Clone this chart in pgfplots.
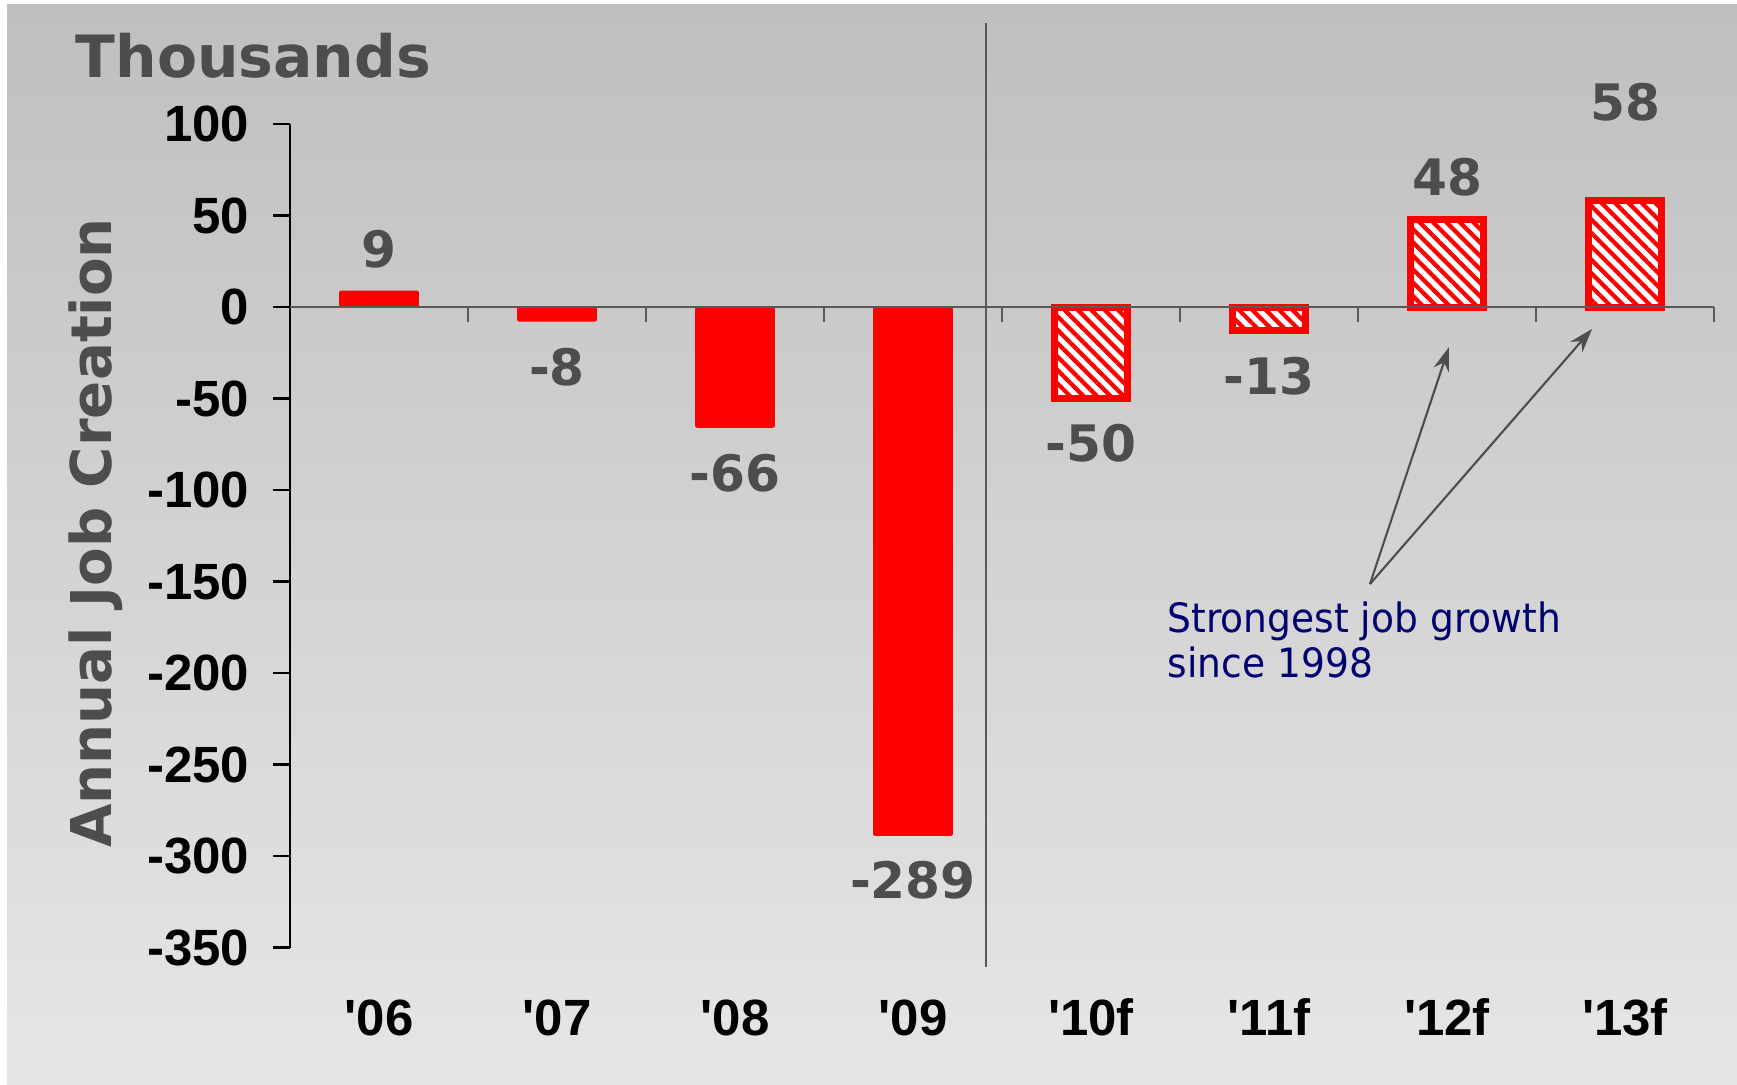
\documentclass[border=0pt]{standalone}
\usepackage{pgfplots}
\pgfplotsset{compat=1.18}
\usetikzlibrary{patterns.meta,arrows.meta}
\usepackage{fontspec}
\setmainfont{Liberation Sans}
\newfontfamily\dejavu{DejaVu Sans}
\newfontfamily\anno[FakeStretch=0.93]{DejaVu Sans}
\definecolor{bgtop}{HTML}{BFBFBF}
\definecolor{bgbot}{HTML}{E6E6E6}
\definecolor{lblgray}{HTML}{4D4D4D}
\definecolor{axgray}{HTML}{595959}
\definecolor{navy}{RGB}{0,0,110}
\definecolor{barred}{HTML}{FF0000}
\begin{document}
\begin{tikzpicture}
\useasboundingbox (0,0) rectangle (173.7mm,108.4mm);
\fill[white] (0,0) rectangle (173.7mm,108.4mm);
\shade[top color=bgtop, bottom color=bgbot] (0.7mm,0) rectangle (173.7mm,108.0mm);
\node[anchor=base west, inner sep=0pt, text=lblgray, font=\dejavu\bfseries\fontsize{16.6}{16.6}\selectfont] at (7.5mm,100.65mm) {Thousands};
\node[anchor=base, rotate=90, inner sep=0pt, text=lblgray, font=\dejavu\bfseries\fontsize{16}{16}\selectfont] at (11.1mm,55.1mm) {Annual Job Creation};
\node[anchor=base west, inner sep=0pt, text=navy, font=\anno\fontsize{11.5}{12.6}\selectfont] at (116.7mm,45.14mm) {Strongest job growth};
\node[anchor=base west, inner sep=0pt, text=navy, font=\anno\fontsize{11.5}{12.6}\selectfont] at (116.7mm,40.7mm) {since 1998};
\begin{axis}[
  at={(29mm,13.65mm)}, anchor=south west,
  scale only axis, width=142.4mm, height=82.35mm,
  xmin=0.5, xmax=8.5, ymin=-350, ymax=100,
  axis lines*=left,
  x axis line style={draw=none},
  y axis line style={black, line width=0.7pt},
  xtick={1,2,3,4,5,6,7,8},
  xticklabels={\textquotesingle 06,\textquotesingle 07,\textquotesingle 08,\textquotesingle 09,\textquotesingle 10f,\textquotesingle 11f,\textquotesingle 12f,\textquotesingle 13f},
  ytick={-350,-300,-250,-200,-150,-100,-50,0,50,100},
  yticklabels={-350,-300,-250,-200,-150,-100,-50,0,50,100},
  tick align=outside,
  major tick length=1.7mm,
  xtick style={draw=none},
  ytick style={black, line width=0.7pt},
  ticklabel style={font=\bfseries\fontsize{14.5}{14.5}\selectfont, text=black},
  yticklabel style={anchor=east, inner sep=0pt, xshift=-2.3mm},
  xticklabel style={anchor=base, inner sep=0pt, yshift=-7.05mm},
  clip=false,
]
\addplot[ybar, bar shift=0pt, bar width=0.449, fill=barred, draw=none, rounded corners=0.6pt]
  coordinates {(1,9) (2,-8) (3,-66) (4,-289)};
\addplot[ybar, bar shift=0pt, bar width=0.41, draw=barred, line width=2pt, fill=white,
  postaction={pattern={Lines[angle=-45,distance=2.7pt,line width=1.2pt]}, pattern color=barred}]
  coordinates {(5,-50) (6,-13) (7,48) (8,58)};
% zero line and category ticks
\draw[axgray, line width=0.6pt] (axis cs:0.5,0) -- (axis cs:8.5,0);
\draw[axgray, line width=0.6pt] (axis cs:1.5,0) -- ++(0pt,-1.5mm);
\draw[axgray, line width=0.6pt] (axis cs:2.5,0) -- ++(0pt,-1.5mm);
\draw[axgray, line width=0.6pt] (axis cs:3.5,0) -- ++(0pt,-1.5mm);
\draw[axgray, line width=0.6pt] (axis cs:4.5,0) -- ++(0pt,-1.5mm);
\draw[axgray, line width=0.6pt] (axis cs:5.5,0) -- ++(0pt,-1.5mm);
\draw[axgray, line width=0.6pt] (axis cs:6.5,0) -- ++(0pt,-1.5mm);
\draw[axgray, line width=0.6pt] (axis cs:7.5,0) -- ++(0pt,-1.5mm);
\draw[axgray, line width=0.6pt] (axis cs:8.5,0) -- ++(0pt,-1.5mm);
% separator
\draw[axgray, line width=0.75pt] (axis cs:4.41,155.2) -- (axis cs:4.41,-360.6);
% value labels
\begin{scope}[every node/.style={text=lblgray, font=\dejavu\bfseries\fontsize{14.3}{14.3}\selectfont, inner sep=0pt, anchor=center}]
\node at (axis cs:1,31.5) {9};
\node at (axis cs:2,-32.7) {-8};
\node at (axis cs:3,-90.8) {-66};
\node at (axis cs:4,-313) {-289};
\node at (axis cs:5,-74.5) {-50};
\node at (axis cs:6,-38) {-13};
\node at (axis cs:7,70.8) {48};
\node at (axis cs:8,112) {58};
\end{scope}
% arrows
\draw[lblgray, line width=0.6pt, -{Stealth[length=2.4mm,width=1.6mm]}] (axis cs:6.567,-151.4) -- (axis cs:7.011,-21.9);
\draw[lblgray, line width=0.6pt, -{Stealth[length=2.4mm,width=1.6mm]}] (axis cs:6.567,-151.4) -- (axis cs:7.815,-12.0);
\end{axis}
\end{tikzpicture}
\end{document}
